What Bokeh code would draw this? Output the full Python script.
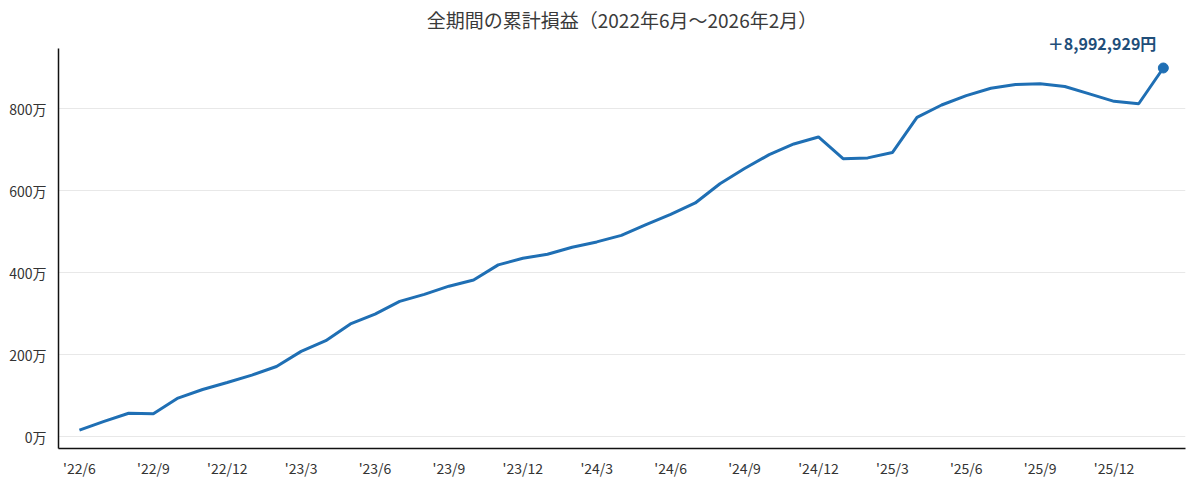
from bokeh.plotting import figure
from bokeh.models import FixedTicker, Range1d, ColumnDataSource, Label
from bokeh.embed import file_html
from bokeh.resources import INLINE

# Monthly cumulative P&L, in 万円, June 2022 .. February 2026
months = ["'22/6", "'22/7", "'22/8", "'22/9", "'22/10", "'22/11", "'22/12",
          "'23/1", "'23/2", "'23/3", "'23/4", "'23/5", "'23/6", "'23/7", "'23/8",
          "'23/9", "'23/10", "'23/11", "'23/12", "'24/1", "'24/2", "'24/3",
          "'24/4", "'24/5", "'24/6", "'24/7", "'24/8", "'24/9", "'24/10",
          "'24/11", "'24/12", "'25/1", "'25/2", "'25/3", "'25/4", "'25/5",
          "'25/6", "'25/7", "'25/8", "'25/9", "'25/10", "'25/11", "'25/12",
          "'26/1", "'26/2"]
cumulative = [16, 37, 57, 56, 94, 115, 132, 150, 171, 208, 234, 275, 299, 330,
              347, 367, 382, 419, 435, 445, 462, 475, 491, 517, 542, 570, 617,
              654, 688, 714, 731, 678, 680, 693, 779, 809, 832, 850, 859, 861,
              854, 836, 818, 812, 899.2929]
final_label = "＋8,992,929円"
y_ticks = [0, 200, 400, 600, 800]
y_tick_labels = ["0万", "200万", "400万", "600万", "800万"]
x_tick_step = 3

FONT = "Noto Sans CJK JP"
Y_LO, Y_AXIS_TOP, Y_HI = -29, 946, 981

idx = list(range(len(months)))
src = ColumnDataSource(dict(x=idx, y=cumulative))

p = figure(width=1192, height=480, output_backend="svg", toolbar_location=None,
           x_range=Range1d(-0.85, len(months) - 0.1),
           y_range=Range1d(Y_LO, Y_HI),
           min_border_left=58, min_border_right=7, min_border_top=34,
           min_border_bottom=32,
           title="全期間の累計損益（2022年6月～2026年2月）")
p.title.align = "center"
p.title.text_font = FONT
p.title.text_font_size = "19px"
p.title.text_font_style = "normal"
p.title.text_color = "#3a3a3a"
p.title.standoff = 3

p.outline_line_color = None
p.background_fill_color = "white"

p.line("x", "y", source=src, line_width=3, line_color="#1f6fb4")
last = len(months) - 1
p.scatter([idx[last]], [cumulative[last]], size=10, color="#1f6fb4")
p.add_layout(Label(x=idx[last], y=cumulative[last], text=final_label,
                   text_font=FONT, text_font_size="16px", text_font_style="bold",
                   text_color="#1f4e79", text_align="right",
                   text_baseline="middle", x_offset=-7, y_offset=25))

xt = idx[::x_tick_step]
p.xaxis.ticker = FixedTicker(ticks=xt)
p.xaxis.major_label_overrides = {i: months[i] for i in xt}
p.yaxis.ticker = FixedTicker(ticks=y_ticks)
p.yaxis.major_label_overrides = {t: l for t, l in zip(y_ticks, y_tick_labels)}
p.yaxis.bounds = (Y_LO, Y_AXIS_TOP)

for ax in (p.xaxis, p.yaxis):
    ax.major_tick_line_color = None
    ax.minor_tick_line_color = None
    ax.axis_line_color = "#111111"
    ax.axis_line_width = 1.5
    ax.major_label_text_font = FONT
    ax.major_label_text_font_size = "14px"
    ax.major_label_text_color = "#333333"
p.yaxis.major_label_standoff = 6
p.xaxis.major_label_standoff = 3

p.xgrid.grid_line_color = None
p.ygrid.grid_line_color = "#e8e8e8"
p.ygrid.grid_line_width = 1

open("out.html", "w").write(file_html(p, INLINE))
